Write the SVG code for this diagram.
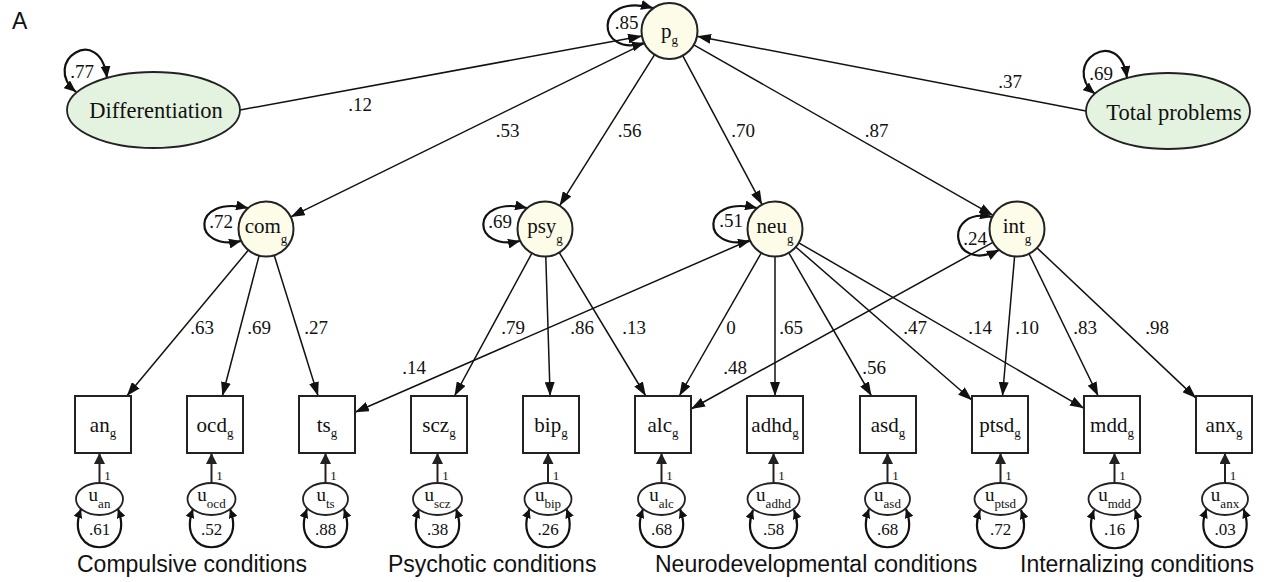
<svg xmlns="http://www.w3.org/2000/svg" width="1267" height="582" viewBox="0 0 1267 582">
<style>
.edge{fill:none;stroke:#111;stroke-width:1.5}
.loop{fill:none;stroke:#111;stroke-width:2.2}
.ue{fill:none;stroke:#222;stroke-width:2}
.lat{fill:#fcfce9;stroke:#222;stroke-width:2}
.ext{fill:#e3f3e0;stroke:#222;stroke-width:1.8}
.obs{fill:#fff;stroke:#222;stroke-width:2}
.err{fill:#fff;stroke:#222;stroke-width:1.8}
.t{font-family:"Liberation Serif","Times New Roman",serif;fill:#111}
.nl{font-size:21px;text-anchor:middle}
.big{font-size:22.5px;text-anchor:middle}
.el{font-size:19px;text-anchor:middle}
.ul{font-size:19px;text-anchor:middle}
.vl{font-size:17px;text-anchor:middle}
.one{font-size:13px;text-anchor:middle}
.sub{font-size:13px}
.cat{font-family:"Liberation Sans",Arial,sans-serif;font-size:23px;fill:#111}
</style>
<defs>
<marker id="arr" markerUnits="userSpaceOnUse" markerWidth="14" markerHeight="10" refX="14" refY="5" orient="auto"><path d="M0,0 L14,5 L0,10 z" fill="#111"/></marker>
<marker id="arrL" markerUnits="userSpaceOnUse" markerWidth="12" markerHeight="10" refX="12" refY="5" orient="auto-start-reverse"><path d="M0,0 L12,5 L0,10 z" fill="#111"/></marker>
<marker id="arrU" markerUnits="userSpaceOnUse" markerWidth="9" markerHeight="9" refX="9" refY="4.5" orient="auto-start-reverse"><path d="M0,0 L9,4.5 L0,9 z" fill="#111"/></marker>
<marker id="arr1" markerUnits="userSpaceOnUse" markerWidth="11" markerHeight="11" refX="11" refY="5.5" orient="auto"><path d="M0,0 L11,5.5 L0,11 z" fill="#222"/></marker>
</defs>
<rect width="1267" height="582" fill="#fff"/>
<text class="cat" x="12" y="29" font-size="24">A</text>

<g id="connectors">
<path class="edge" d="M240,110 L642,36.1" marker-end="url(#arr)"/>
<path class="edge" d="M1086,111 L697,36.3" marker-end="url(#arr)"/>
<path class="edge" d="M644.4,43.3 L290.7,216.9" marker-end="url(#arr)"/>
<path class="edge" d="M654.6,54.7 L559.6,205.7" marker-end="url(#arr)"/>
<path class="edge" d="M682.7,55.7 L762.1,204.7" marker-end="url(#arr)"/>
<path class="edge" d="M693.8,44.9 L993.1,215.4" marker-end="url(#arr)"/>
<path class="edge" d="M248.4,250.1 L126.8,396" marker-end="url(#arr)"/>
<path class="edge" d="M259.1,255.6 L222.4,396" marker-end="url(#arr)"/>
<path class="edge" d="M274.2,255.3 L318.1,396" marker-end="url(#arr)"/>
<path class="edge" d="M531.9,253.2 L454.5,396" marker-end="url(#arr)"/>
<path class="edge" d="M545.8,256.5 L550.1,396" marker-end="url(#arr)"/>
<path class="edge" d="M559.2,252.5 L645.8,396" marker-end="url(#arr)"/>
<path class="edge" d="M749.8,240 L355,412.3" marker-end="url(#arr)"/>
<path class="edge" d="M761.3,252.9 L679.3,396" marker-end="url(#arr)"/>
<path class="edge" d="M775,256.5 L775,396" marker-end="url(#arr)"/>
<path class="edge" d="M788.8,252.8 L871.5,396" marker-end="url(#arr)"/>
<path class="edge" d="M795.8,247 L972,400.2" marker-end="url(#arr)"/>
<path class="edge" d="M798.8,242.8 L1084,408.3" marker-end="url(#arr)"/>
<path class="edge" d="M992.9,242.3 L691,409" marker-end="url(#arr)"/>
<path class="edge" d="M1014.6,256.4 L1002.5,396" marker-end="url(#arr)"/>
<path class="edge" d="M1029,253.7 L1098.2,396" marker-end="url(#arr)"/>
<path class="edge" d="M1037,247.9 L1196,398.1" marker-end="url(#arr)"/>
<path class="loop" d="M76,92 C40,62 100,22 107,78" marker-start="url(#arrL)" marker-end="url(#arrL)"/>
<path class="loop" d="M1095,94 C1059,64 1119,23 1127,78" marker-start="url(#arrL)" marker-end="url(#arrL)"/>
<path class="loop" d="M644,43 C596,58 592,-8 653,8" marker-start="url(#arrL)" marker-end="url(#arrL)"/>
<path class="loop" d="M241,241 C192,252 190,195 248,208" marker-start="url(#arrL)" marker-end="url(#arrL)"/>
<path class="loop" d="M520,241 C471,252 469,195 527,208" marker-start="url(#arrL)" marker-end="url(#arrL)"/>
<path class="loop" d="M750,241 C701,252 699,195 757,208" marker-start="url(#arrL)" marker-end="url(#arrL)"/>
<path class="loop" d="M999,250 C950,275 942,206 992,217" marker-start="url(#arrL)" marker-end="url(#arrL)"/>
<g class="ue" marker-end="url(#arr1)">
<path d="M99.5,483 L99.5,453"/>
<path d="M211.5,483 L211.5,453"/>
<path d="M325.5,483 L325.5,453"/>
<path d="M437.5,483 L437.5,453"/>
<path d="M548,483 L548,453"/>
<path d="M661.5,483 L661.5,453"/>
<path d="M773.5,483 L773.5,453"/>
<path d="M887.5,483 L887.5,453"/>
<path d="M1000.5,483 L1000.5,453"/>
<path d="M1114.5,483 L1114.5,453"/>
<path d="M1225,483 L1225,453"/>
</g>
<g class="loop">
<path d="M81,509 C62,560 137,560 118,509" marker-start="url(#arrU)" marker-end="url(#arrU)"/>
<path d="M193,509 C174,560 249,560 230,509" marker-start="url(#arrU)" marker-end="url(#arrU)"/>
<path d="M307,509 C288,560 363,560 344,509" marker-start="url(#arrU)" marker-end="url(#arrU)"/>
<path d="M419,509 C400,560 475,560 456,509" marker-start="url(#arrU)" marker-end="url(#arrU)"/>
<path d="M529.5,509 C510.5,560 585.5,560 566.5,509" marker-start="url(#arrU)" marker-end="url(#arrU)"/>
<path d="M643,509 C624,560 699,560 680,509" marker-start="url(#arrU)" marker-end="url(#arrU)"/>
<path d="M753,510 C734,561 813,561 794,510" marker-start="url(#arrU)" marker-end="url(#arrU)"/>
<path d="M869,509 C850,560 925,560 906,509" marker-start="url(#arrU)" marker-end="url(#arrU)"/>
<path d="M980,510 C961,561 1040,561 1021,510" marker-start="url(#arrU)" marker-end="url(#arrU)"/>
<path d="M1094,510 C1075,561 1154,561 1135,510" marker-start="url(#arrU)" marker-end="url(#arrU)"/>
<path d="M1206.5,509 C1187.5,560 1262.5,560 1243.5,509" marker-start="url(#arrU)" marker-end="url(#arrU)"/>
</g>
</g>

<g id="edge-labels" class="t">
<text class="el" x="360" y="111">.12</text>
<text class="el" x="1010" y="88">.37</text>
<text class="el" x="507.5" y="137">.53</text>
<text class="el" x="629.5" y="137">.56</text>
<text class="el" x="743" y="137">.70</text>
<text class="el" x="876.5" y="137">.87</text>
<text class="el" x="82" y="78">.77</text>
<text class="el" x="1101" y="80">.69</text>
<text class="el" x="626.5" y="29">.85</text>
<text class="el" x="221" y="228">.72</text>
<text class="el" x="500" y="228">.69</text>
<text class="el" x="731" y="227">.51</text>
<text class="el" x="975" y="245">.24</text>
<text class="el" x="202" y="334">.63</text>
<text class="el" x="259" y="334">.69</text>
<text class="el" x="316" y="334">.27</text>
<text class="el" x="513" y="334">.79</text>
<text class="el" x="582" y="334">.86</text>
<text class="el" x="634" y="334">.13</text>
<text class="el" x="414" y="374">.14</text>
<text class="el" x="731" y="334">0</text>
<text class="el" x="791" y="334">.65</text>
<text class="el" x="915" y="334">.47</text>
<text class="el" x="980" y="334">.14</text>
<text class="el" x="1027" y="334">.10</text>
<text class="el" x="1085" y="334">.83</text>
<text class="el" x="1157" y="334">.98</text>
<text class="el" x="735" y="374">.48</text>
<text class="el" x="874" y="374">.56</text>
<text class="one" x="107.5" y="480">1</text>
<text class="one" x="219.5" y="480">1</text>
<text class="one" x="333.5" y="480">1</text>
<text class="one" x="445.5" y="480">1</text>
<text class="one" x="556" y="480">1</text>
<text class="one" x="669.5" y="480">1</text>
<text class="one" x="781.5" y="480">1</text>
<text class="one" x="895.5" y="480">1</text>
<text class="one" x="1008.5" y="480">1</text>
<text class="one" x="1122.5" y="480">1</text>
<text class="one" x="1233" y="480">1</text>
<text class="vl" x="99.5" y="535">.61</text>
<text class="vl" x="211.5" y="535">.52</text>
<text class="vl" x="325.5" y="535">.88</text>
<text class="vl" x="437.5" y="535">.38</text>
<text class="vl" x="548" y="535">.26</text>
<text class="vl" x="661.5" y="535">.68</text>
<text class="vl" x="773.5" y="535">.58</text>
<text class="vl" x="887.5" y="535">.68</text>
<text class="vl" x="1000.5" y="535">.72</text>
<text class="vl" x="1114.5" y="535">.16</text>
<text class="vl" x="1225" y="535">.03</text>
</g>

<g id="n_diff"><ellipse class="ext" cx="153.5" cy="110" rx="86.5" ry="38"/><text class="t big" x="156" y="118">Differentiation</text></g>
<g id="n_total"><ellipse class="ext" cx="1168" cy="111" rx="82" ry="38"/><text class="t big" x="1174" y="120">Total problems</text></g>
<g id="n_p"><circle class="lat" cx="669.5" cy="31" r="28"/><text class="t nl" x="669.5" y="38">p<tspan class="sub" dy="6">g</tspan></text></g>
<g id="n_com"><circle class="lat" cx="266" cy="229" r="27.5"/><text class="t nl" x="266" y="233">com<tspan class="sub" dy="10">g</tspan></text></g>
<g id="n_psy"><circle class="lat" cx="545" cy="229" r="27.5"/><text class="t nl" x="545" y="233">psy<tspan class="sub" dy="10">g</tspan></text></g>
<g id="n_neu"><circle class="lat" cx="775" cy="229" r="27.5"/><text class="t nl" x="775" y="233">neu<tspan class="sub" dy="10">g</tspan></text></g>
<g id="n_int"><circle class="lat" cx="1017" cy="229" r="27.5"/><text class="t nl" x="1017" y="233">int<tspan class="sub" dy="10">g</tspan></text></g>

<g id="n_an"><rect class="obs" x="75" y="396" width="56" height="57"/><text class="t nl" font-size="20" x="103" y="432">an<tspan class="sub" dy="5">g</tspan></text></g>
<g id="n_ocd"><rect class="obs" x="187" y="396" width="56" height="57"/><text class="t nl" font-size="20" x="215" y="432">ocd<tspan class="sub" dy="5">g</tspan></text></g>
<g id="n_ts"><rect class="obs" x="299" y="396" width="56" height="57"/><text class="t nl" font-size="20" x="327" y="432">ts<tspan class="sub" dy="5">g</tspan></text></g>
<g id="n_scz"><rect class="obs" x="411" y="396" width="56" height="57"/><text class="t nl" font-size="20" x="439" y="432">scz<tspan class="sub" dy="5">g</tspan></text></g>
<g id="n_bip"><rect class="obs" x="523" y="396" width="56" height="57"/><text class="t nl" font-size="20" x="551" y="432">bip<tspan class="sub" dy="5">g</tspan></text></g>
<g id="n_alc"><rect class="obs" x="635" y="396" width="56" height="57"/><text class="t nl" font-size="20" x="663" y="432">alc<tspan class="sub" dy="5">g</tspan></text></g>
<g id="n_adhd"><rect class="obs" x="747" y="396" width="56" height="57"/><text class="t nl" font-size="20" x="775" y="432">adhd<tspan class="sub" dy="5">g</tspan></text></g>
<g id="n_asd"><rect class="obs" x="860" y="396" width="56" height="57"/><text class="t nl" font-size="20" x="888" y="432">asd<tspan class="sub" dy="5">g</tspan></text></g>
<g id="n_ptsd"><rect class="obs" x="972" y="396" width="56" height="57"/><text class="t nl" font-size="20" x="1000" y="432">ptsd<tspan class="sub" dy="5">g</tspan></text></g>
<g id="n_mdd"><rect class="obs" x="1084" y="396" width="56" height="57"/><text class="t nl" font-size="20" x="1112" y="432">mdd<tspan class="sub" dy="5">g</tspan></text></g>
<g id="n_anx"><rect class="obs" x="1196" y="396" width="56" height="57"/><text class="t nl" font-size="20" x="1224" y="432">anx<tspan class="sub" dy="5">g</tspan></text></g>

<g id="u_an"><ellipse class="err" cx="99.5" cy="499" rx="23.5" ry="16"/><text class="t ul" x="99.5" y="501">u<tspan class="sub" dy="7">an</tspan></text></g>
<g id="u_ocd"><ellipse class="err" cx="211.5" cy="499" rx="24" ry="16"/><text class="t ul" x="211.5" y="501">u<tspan class="sub" dy="7">ocd</tspan></text></g>
<g id="u_ts"><ellipse class="err" cx="325.5" cy="499" rx="22.5" ry="16"/><text class="t ul" x="325.5" y="501">u<tspan class="sub" dy="7">ts</tspan></text></g>
<g id="u_scz"><ellipse class="err" cx="437.5" cy="499" rx="24.5" ry="16"/><text class="t ul" x="437.5" y="501">u<tspan class="sub" dy="7">scz</tspan></text></g>
<g id="u_bip"><ellipse class="err" cx="548" cy="499" rx="23.5" ry="16"/><text class="t ul" x="548" y="501">u<tspan class="sub" dy="7">bip</tspan></text></g>
<g id="u_alc"><ellipse class="err" cx="661.5" cy="499" rx="23.5" ry="16"/><text class="t ul" x="661.5" y="501">u<tspan class="sub" dy="7">alc</tspan></text></g>
<g id="u_adhd"><ellipse class="err" cx="773.5" cy="499" rx="26" ry="16"/><text class="t ul" x="773.5" y="501">u<tspan class="sub" dy="7">adhd</tspan></text></g>
<g id="u_asd"><ellipse class="err" cx="887.5" cy="499" rx="22.5" ry="16"/><text class="t ul" x="887.5" y="501">u<tspan class="sub" dy="7">asd</tspan></text></g>
<g id="u_ptsd"><ellipse class="err" cx="1000.5" cy="499" rx="26" ry="16"/><text class="t ul" x="1000.5" y="501">u<tspan class="sub" dy="7">ptsd</tspan></text></g>
<g id="u_mdd"><ellipse class="err" cx="1114.5" cy="499" rx="26" ry="16"/><text class="t ul" x="1114.5" y="501">u<tspan class="sub" dy="7">mdd</tspan></text></g>
<g id="u_anx"><ellipse class="err" cx="1225" cy="499" rx="23" ry="16"/><text class="t ul" x="1225" y="501">u<tspan class="sub" dy="7">anx</tspan></text></g>

<g id="categories">
<text class="cat" x="77" y="572">Compulsive conditions</text>
<text class="cat" x="388" y="572">Psychotic conditions</text>
<text class="cat" x="655" y="572">Neurodevelopmental conditions</text>
<text class="cat" x="1020" y="572">Internalizing conditions</text>
</g>
</svg>
